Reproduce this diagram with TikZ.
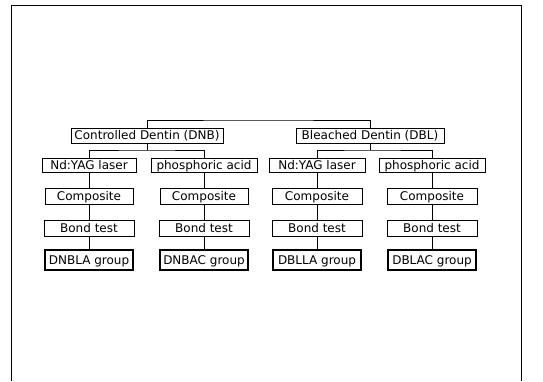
\documentclass[tikz,border=0pt]{standalone}
\usepackage{fontspec}
\setmainfont{DejaVu Sans}
\usetikzlibrary{positioning}

\begin{document}
\begin{tikzpicture}[
    x=1pt, y=1pt,
    node distance=15pt,
    box/.style={rectangle, draw, line width=0.7pt, inner sep=0pt, minimum height=14pt,
        text height=8.6pt, text depth=0.2pt, font=\fontsize{12}{13}\selectfont},
    grp/.style={box, line width=2pt, minimum width=88pt, minimum height=20pt},
    link/.style={line width=0.6pt}
]
\useasboundingbox (0,0) rectangle (543,381);
\draw[line width=0.8pt] (11,0) -- (11,376) -- (521,376) -- (521,0);

% study groups
\node[box, minimum width=152pt, minimum height=15pt] (dnb) at (147,245.5) {Controlled Dentin (DNB)};
\node[box, minimum width=148pt, minimum height=15pt] (dbl) at (370,245.5) {Bleached Dentin (DBL)};
\coordinate (root) at (258,261);
\coordinate (jdnb) at (147,231);
\coordinate (jdbl) at (370,231);

% treatments
\node[box, minimum width=94pt] (nd1) at (89,215.5) {Nd:YAG laser};
\node[box, minimum width=106pt] (ph1) at (204,215.5) {phosphoric acid};
\node[box, minimum width=96pt] (nd2) at (317,215.5) {Nd:YAG laser};
\node[box, minimum width=106pt] (ph2) at (432,215.5) {phosphoric acid};

% composite, bond test, groups
\node[box, minimum width=88pt, minimum height=16pt, below=of nd1] (cp1) {Composite};
\node[box, minimum width=88pt, minimum height=16pt, below=of ph1] (cp2) {Composite};
\node[box, minimum width=90pt, minimum height=16pt, below=of nd2] (cp3) {Composite};
\node[box, minimum width=90pt, minimum height=16pt, below=of ph2] (cp4) {Composite};
\node[box, minimum width=90pt, minimum height=16pt, below=of cp1] (bt1) {Bond test};
\node[box, minimum width=90pt, minimum height=16pt, below=of cp2] (bt2) {Bond test};
\node[box, minimum width=90pt, minimum height=16pt, below=of cp3] (bt3) {Bond test};
\node[box, minimum width=90pt, minimum height=16pt, below=of cp4] (bt4) {Bond test};
\node[grp, below=13pt of bt1] (g1) {DNBLA group};
\node[grp, below=13pt of bt2] (g2) {DNBAC group};
\node[grp, below=13pt of bt3] (g3) {DBLLA group};
\node[grp, below=13pt of bt4] (g4) {DBLAC group};

\draw[link] (dnb.north) |- (root) -| (dbl.north);
\draw[link] (dnb) -- (jdnb);
\draw[link] (dbl) -- (jdbl);
\draw[link] (nd1.north) |- (jdnb) -| (ph1.north);
\draw[link] (nd2.north) |- (jdbl) -| (ph2.north);
\foreach \i in {1,2,3,4} {
  \draw[link] (cp\i) -- (bt\i);
  \draw[link] (bt\i) -- (g\i);
}
\draw[link] (nd1) -- (cp1);
\draw[link] (ph1) -- (cp2);
\draw[link] (nd2) -- (cp3);
\draw[link] (ph2) -- (cp4);
\end{tikzpicture}
\end{document}
